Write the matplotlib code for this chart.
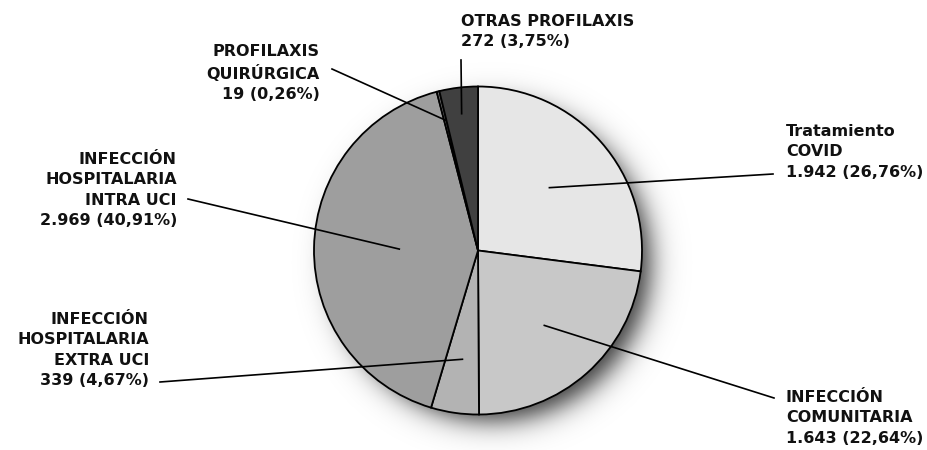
import numpy as np
import matplotlib.pyplot as plt

# datos
categorias = ["Tratamiento\nCOVID", "INFECCIÓN\nCOMUNITARIA",
              "INFECCIÓN\nHOSPITALARIA\nEXTRA UCI", "INFECCIÓN\nHOSPITALARIA\nINTRA UCI",
              "PROFILAXIS\nQUIRÚRGICA", "OTRAS PROFILAXIS"]
casos = [1942, 1643, 339, 2969, 19, 272]
etiquetas_valor = ["1.942 (26,76%)", "1.643 (22,64%)", "339 (4,67%)",
                   "2.969 (40,91%)", "19 (0,26%)", "272 (3,75%)"]
colores = ["#e6e6e6", "#c8c8c8", "#b3b3b3", "#9e9e9e", "#7a7a7a", "#404040"]

W, H = 928, 450
cx, cy = 478, 250.5   # centro del pastel (pixeles, y hacia abajo)
R = 164

# posicion de textos: x, y centro, alineacion
pos_texto = [(786, 152, 'left'), (786, 418, 'left'), (149, 350, 'right'),
             (177, 190, 'right'), (320, 73, 'right'), (461, 31.5, 'left')]
# fin de la linea guia y radio relativo donde empieza
fin_linea = [(773, 174), (774, 398), (160, 382), (188, 199), (332, 69), (461, 60)]
radio_linea = [0.58, 0.61, 0.67, 0.48, 0.82, 0.84]

fig = plt.figure(figsize=(W / 100, H / 100), dpi=100)
ax = fig.add_axes([0, 0, 1, 1])

wedges, _ = ax.pie(casos, colors=colores, startangle=90, counterclock=False,
                   center=(cx, H - cy), radius=R,
                   wedgeprops=dict(edgecolor='black', linewidth=1.3, zorder=2))

# sombra difuminada abajo a la derecha
yy, xx = np.mgrid[0:H, 0:W] + 0.5
d = np.hypot(xx - (cx + 14), yy - (cy + 12))
sombra = np.zeros((H, W, 4))
sombra[..., 3] = 0.8 / (1 + np.exp((d - R + 6) / 8.0))
ax.imshow(sombra, extent=(0, W, 0, H), origin='upper', zorder=1, interpolation='bilinear')

for i, w in enumerate(wedges):
    ang = np.deg2rad((w.theta1 + w.theta2) / 2)
    x0 = cx + radio_linea[i] * R * np.cos(ang)
    y0 = (H - cy) + radio_linea[i] * R * np.sin(ang)
    x1, y1 = fin_linea[i]
    ax.plot([x0, x1], [y0, H - y1], color='black', lw=1.2, zorder=3)
    tx, ty, ha = pos_texto[i]
    ax.text(tx, H - ty, categorias[i] + "\n" + etiquetas_valor[i], ha=ha, va='center',
            multialignment=ha, fontsize=11.5, fontweight='bold', family='DejaVu Sans',
            linespacing=1.45, color='#111111')

ax.set_aspect('auto')
ax.set_xlim(0, W)
ax.set_ylim(0, H)
ax.axis('off')
fig.savefig("out.png", dpi=100)
